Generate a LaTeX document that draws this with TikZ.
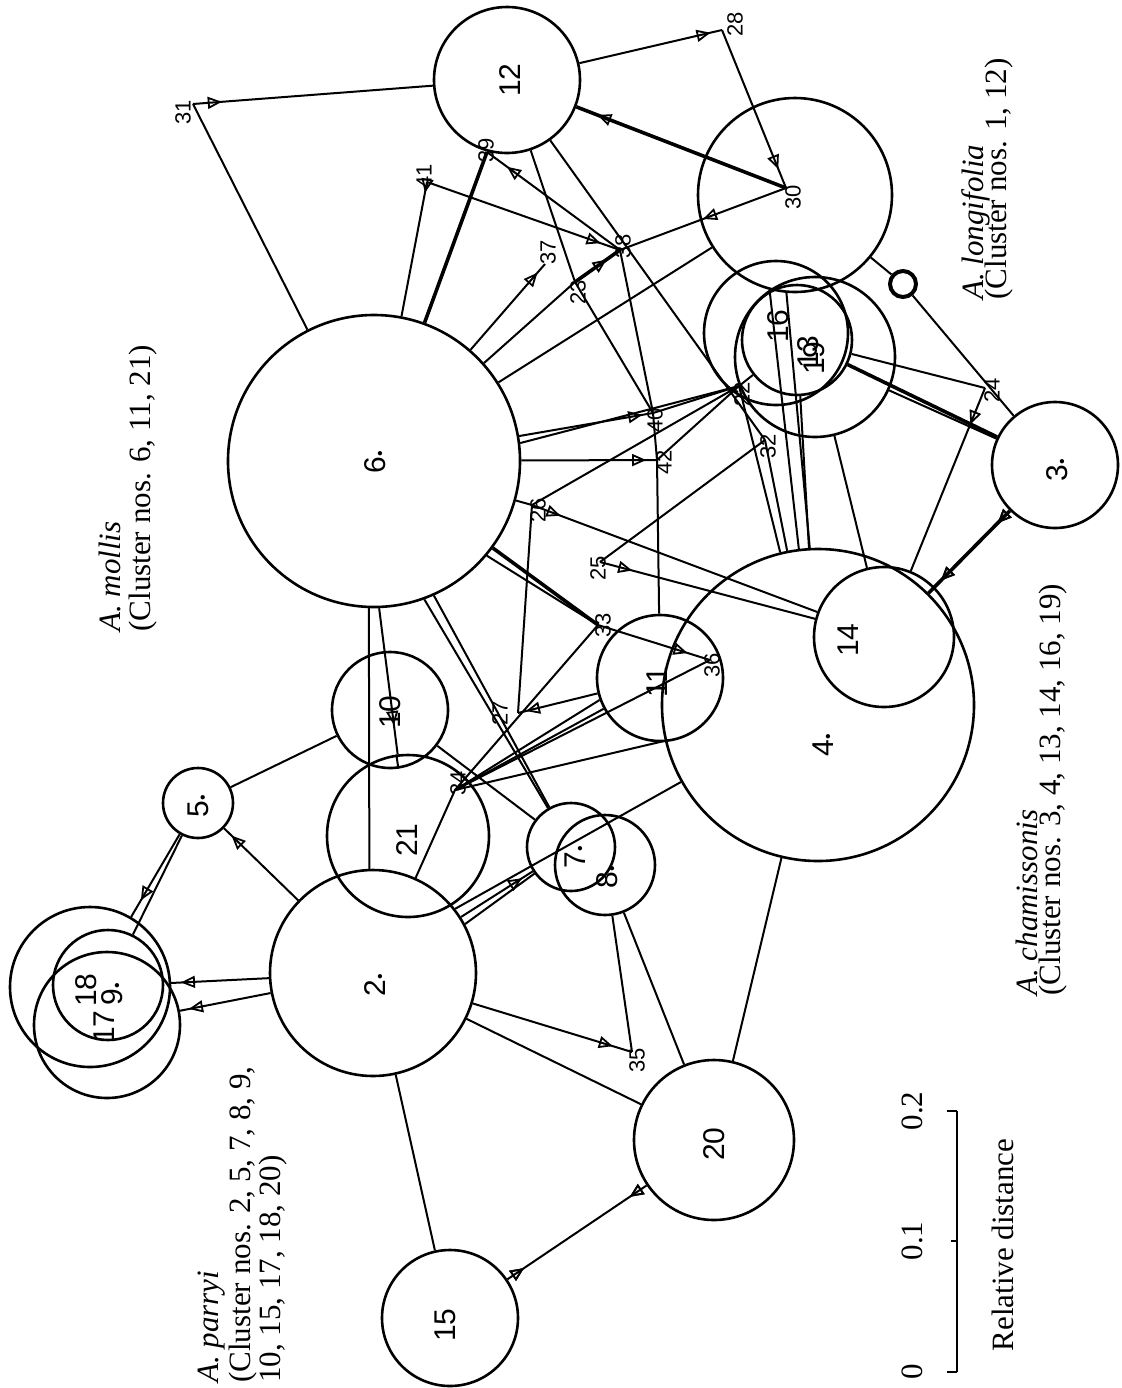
\documentclass[tikz,border=0pt]{standalone}
\usepackage{fontspec}
\setmainfont{Liberation Serif}
\newfontfamily\plotfont{Liberation Sans}
\usetikzlibrary{arrows.meta,decorations.markings}
\newcommand{\dt}{{\fontsize{8}{8}\selectfont\textbullet}}
\tikzset{
  ring/.style={draw,circle,line width=1.3pt,inner sep=0pt,minimum size=#1},
  big/.style={font=\plotfont\fontsize{15}{15}\selectfont,rotate=90,inner sep=0pt},
  sml/.style={font=\plotfont\fontsize{11}{11}\selectfont,rotate=90,inner sep=0pt},
  link/.style={line width=1pt},
  heavy/.style={line width=1.8pt},
  tri/.style={postaction={decorate},decoration={markings,mark=at position #1 with {\arrow{Triangle[open,length=7pt,width=6pt,line width=0.9pt]}}}},
  trr/.style={postaction={decorate},decoration={markings,mark=at position #1 with {\arrowreversed{Triangle[open,length=7pt,width=6pt,line width=0.9pt]}}}},
  caption/.style={font=\fontsize{15.5}{15.5}\selectfont,rotate=90,anchor=base west,inner sep=0pt},
}
\begin{document}
\begin{tikzpicture}[x=0.5pt,y=-0.5pt]
\useasboundingbox (0,0) rectangle (1122,1388);
% cluster circles
\node[ring=73pt] (c12) at (507,80) {};
\node[ring=97pt] (c30) at (795,195) {};
\node[ring=146pt] (c6) at (374,461) {};
\node[ring=72pt] (c16) at (776,333) {};
\node[ring=55pt] (c13) at (797,340) {};
\node[ring=80pt] (c19) at (815,357) {};
\node[ring=63pt] (c3) at (1055,465) {};
\node[ring=156pt] (c4) at (818,705) {};
\node[ring=70pt] (c14) at (884,637) {};
\node[ring=63pt] (c11) at (660,678) {};
\node[ring=58pt] (c10) at (390,710) {};
\node[ring=81pt] (c21) at (408,836) {};
\node[ring=103pt] (c2) at (373,973) {};
\node[ring=44pt] (c7) at (571,847) {};
\node[ring=50pt] (c8) at (605,865) {};
\node[ring=35pt] (c5) at (198,803) {};
\node[ring=55pt] (c18) at (108,985) {};
\node[ring=80pt] (c17) at (90,987) {};
\node[ring=73pt] (c9) at (107,1025) {};
\node[ring=80pt] (c20) at (714,1140) {};
\node[ring=68pt] (c15) at (450,1318) {};
% cluster numbers
\node[big] (n12) at (510,80) {12};
\node[big] (n6) at (375,462) {6\dt};
\node[big] (n16) at (778,326) {16};
\node[big] (n13) at (808,352) {13};
\node[big] (n19) at (814,358) {19};
\node[big] (n3) at (1057,470) {3\dt};
\node[big] (n4) at (823,745) {4\dt};
\node[big] (n14) at (848,640) {14};
\node[big] (n11) at (657,682) {11};
\node[big] (n10) at (390,712) {10};
\node[big] (n21) at (407,840) {21};
\node[big] (n2) at (375,985) {2\dt};
\node[big] (n7) at (575,857) {7\dt};
\node[big] (n8) at (607,877) {8\dt};
\node[big] (n5) at (198,806) {5\dt};
\node[big] (n18) at (86,990) {18};
\node[big] (n9) at (112,994) {9\dt};
\node[big] (n17) at (104,1027) {17};
\node[big] (n20) at (714,1144) {20};
\node[big] (n15) at (445,1325) {15};
% individual points
\coordinate (p31) at (193,104);
\coordinate (p28) at (722,30);
\coordinate (p30) at (786,188);
\coordinate (p41) at (427,182);
\coordinate (p39) at (487,152);
\coordinate (p38) at (620,250);
\coordinate (p37) at (545,264);
\coordinate (p23) at (575,282);
\coordinate (p40) at (653,413);
\coordinate (p42) at (657,460);
\coordinate (p26) at (532,505);
\coordinate (p25) at (600,562);
\coordinate (p33) at (598,625);
\coordinate (p36) at (710,660);
\coordinate (p27) at (518,713);
\coordinate (p34) at (455,790);
\coordinate (p35) at (632,1052);
\coordinate (p24) at (985,388);
\coordinate (p32) at (765,440);
\coordinate (p22) at (739,386);
\node[sml] (l31) at (183,112) {31};
\node[sml] (l28) at (735,24) {28};
\node[sml] (l30) at (793,197) {30};
\node[sml] (l41) at (424,176) {41};
\node[sml] (l39) at (486,150) {39};
\node[sml] (l38) at (623,246) {38};
\node[sml] (l37) at (548,252) {37};
\node[sml] (l23) at (578,292) {23};
\node[sml] (l40) at (655,420) {40};
\node[sml] (l42) at (664,462) {42};
\node[sml] (l26) at (538,510) {26};
\node[sml] (l25) at (598,568) {25};
\node[sml] (l33) at (603,625) {33};
\node[sml] (l36) at (712,665) {36};
\node[sml] (l27) at (500,713) {27};
\node[sml] (l34) at (458,783) {34};
\node[sml] (l35) at (637,1060) {35};
\node[sml] (l24) at (992,390) {24};
\node[sml] (l32) at (768,446) {32};
\node[sml] (l22) at (742,394) {22};
\node[draw,circle,line width=2pt,minimum size=13pt,inner sep=0pt] (b29) at (903,284) {};
% connectors in the upper part
\draw[link,tri=0.12] (p31) -- (c12);
\draw[link] (p31) -- (c6);
\draw[link,tri=0.92] (c12) -- (p28);
\draw[link,tri=0.88] (p28) -- (p30);
\draw[heavy,tri=0.9] (p30) -- (c12);
\draw[link,tri=0.5] (p30) -- (p38);
\draw[link,tri=0.08] (p41) -- (c6);
\draw[link,tri=0.9] (p41) -- (p38);
\draw[heavy] (p39) -- (c6);
\draw[link,tri=0.85] (p38) -- (p39);
\draw[link] (c12) -- (p23);
\draw[link] (p23) -- (p40);
\draw[link] (c12) -- (p32);
\draw[link,tri=0.9] (c6) -- (p37);
\draw[link] (p23) -- (c6);
\draw[heavy,tri=0.7] (p23) -- (p38);
\draw[link] (c6) -- (c30);
\draw[link,tri=0.92] (c6) -- (p40);
\draw[link] (c6.7) -- (p22);
\draw[link,tri=0.92] (c6) -- (p42);
\draw[link] (p40) -- (p22);
\draw[link] (p42) -- (p22);
\draw[link] (p38) -- (p40);
\draw[link] (p40) -- (p42);
\draw[link] (p42) -- (c11);
\draw[link] (p26) -- (c6);
\draw[link,tri=0.1] (p26) -- (c14);
\draw[link,tri=0.15] (p25) -- (c14);
\draw[link] (p26) -- (p22);
\draw[link] (p25) -- (p32);
\draw[link] (p26) -- (p27);
% connectors around the middle
\draw[heavy] (c6) -- (p33);
\draw[link] (c6.-40) -- (p33);
\draw[link,tri=0.8] (p33) -- (p36);
\draw[link] (p33) -- (p34);
\draw[link,tri=0.9] (c11) -- (p27);
\draw[link] (p36) -- (p34);
\draw[link] (c6.-70) -- (c7);
\draw[link] (c6.-66) -- (c7);
\draw[link] (c4) -- (p34);
\draw[link] (c2.38) -- (c4);
\draw[link] (c11) -- (p34);
\draw[link] (c11.200) -- (p34);
\draw[link] (c10) -- (c7);
\draw[link,tri=0.85] (c2) -- (c7);
\draw[link] (c2.28) -- (c7);
\draw[link] (c2) -- (p34);
% links around the parryi group
\draw[link,tri=0.9] (c2) -- (c5);
\draw[link] (c5) -- (c10);
\draw[link,tri=0.8] (c5) -- (c17);
\draw[link] (c5) -- (c18);
\draw[link,tri=0.9] (c2) -- (c17);
\draw[link,tri=0.9] (c2) -- (c9);
\draw[link] (c2) -- (c15);
\draw[link,tri=0.12,trr=0.88] (c15) -- (c20);
\draw[link,tri=0.88] (c2) -- (p35);
\draw[link] (c2) -- (c20);
\draw[link] (p35) -- (c8);
\draw[link] (c20) -- (c8);
\draw[link] (c20) -- (c4);
\draw[link] (c6.-92) -- (c2.92);
\draw[link,tri=0.8] (c6.-88) -- (c21);
\draw[link] (c10) -- (c21);
% links around the chamissonis group
\draw[link] (c30.265) -- (c4.93);
\draw[link] (c30.255) -- (c4.97);
\draw[link] (c13) -- (c4);
\draw[link] (c19) -- (c14);
\draw[heavy] (c13) -- (c3);
\draw[link] (c19) -- (c3);
\draw[link] (c13) -- (p24);
\draw[link] (c30) -- (b29);
\draw[link] (b29) -- (c3);
\draw[link,tri=0.2] (p24) -- (c14);
\draw[heavy,tri=0.15,tri=0.85] (c3) -- (c4);
\draw[link] (p22) -- (c4);
\draw[link] (p22) -- (c13);
\draw[link] (p32) -- (c4);
% captions
\node[caption] (tmol) at (120,632) {\textit{A. mollis}};
\node[caption] (cmol) at (150,632) {(Cluster nos. 6, 11, 21)};
\node[caption] (tpar) at (218,1383) {\textit{A. parryi}};
\node[caption] (cpar) at (250,1383) {(Cluster nos. 2, 5, 7, 8, 9,};
\node[caption] (cpar2) at (280,1383) {10, 15, 17, 18, 20)};
\node[caption] (tlon) at (983,300) {\textit{A. longifolia}};
\node[caption] (clon) at (1006,300) {(Cluster nos. 1, 12)};
\node[caption] (tcha) at (1037,996) {\textit{A. chamissonis}};
\node[caption] (ccha) at (1060,996) {(Cluster nos. 3, 4, 13, 14, 16, 19)};
% distance scale
\coordinate (s0) at (957,1372);
\coordinate (s1) at (957,1241);
\coordinate (s2) at (957,1111);
\draw[link] (s0) -- (s2);
\draw[link] (s0) -- ++(-10,0);
\draw[link] (s2) -- ++(-10,0);
\draw[link] (s1) -- ++(-6,0);
\node[caption,anchor=base] (t0) at (922,1372) {0};
\node[caption,anchor=base] (t1) at (922,1241) {0.1};
\node[caption,anchor=base] (t2) at (922,1111) {0.2};
\node[caption,anchor=base] (trd) at (1013,1245) {Relative distance};
\end{tikzpicture}
\end{document}
